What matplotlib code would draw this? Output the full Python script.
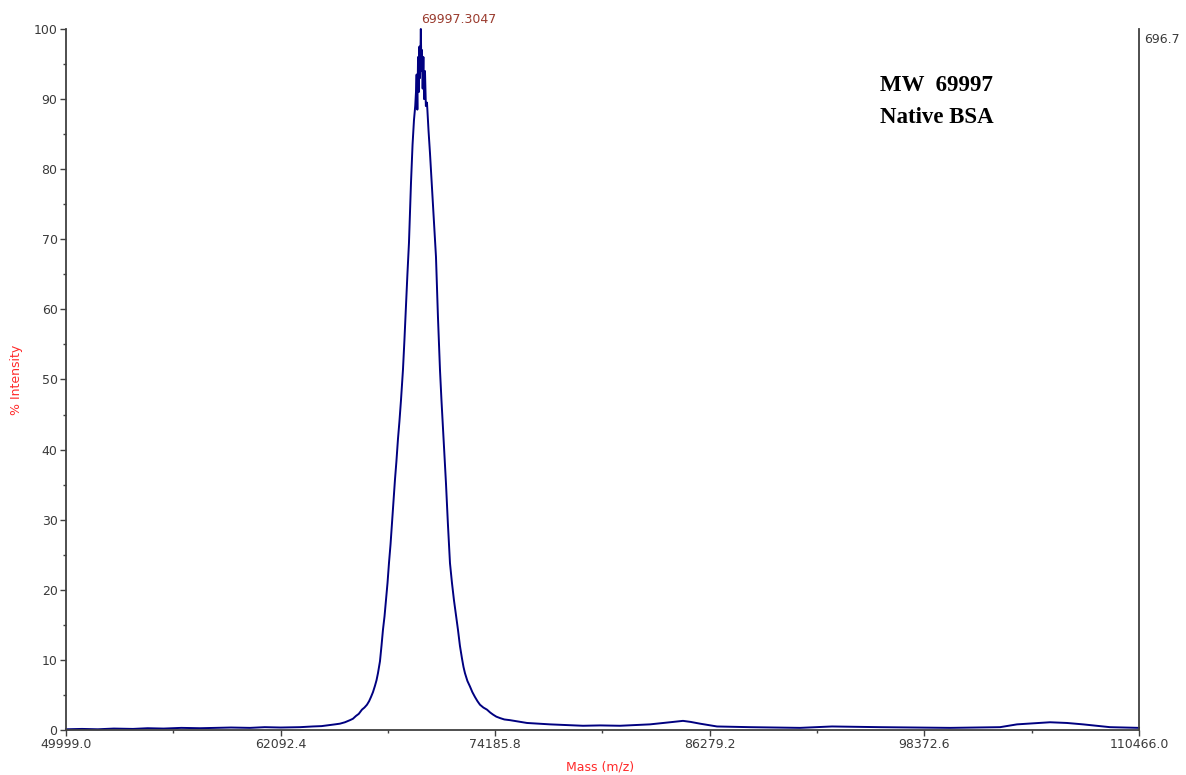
import numpy as np
import matplotlib.pyplot as plt

# deconvoluted spectrum (mass, % intensity)
mass = [49999, 50900, 51800, 52700, 53775, 54600, 55500, 56500, 57550, 58400,
        59300, 60368, 61200, 62100, 63186, 63900, 64400, 64876, 65160, 65440,
        65720, 66003, 66170, 66341, 66500, 66679, 66820, 66961, 67080, 67187,
        67300, 67412, 67500, 67581, 67694, 67780, 67863, 67950, 68032, 68120,
        68201, 68290, 68370, 68450, 68539, 68620, 68708, 68790, 68877, 68990,
        69070, 69159, 69240, 69328, 69441, 69530, 69610, 69680, 69723, 69760,
        69800, 69840, 69880, 69920, 69950, 69997, 70030, 70060, 70100, 70140,
        70180, 70230, 70280, 70343, 70430, 70512, 70600, 70681, 70770, 70850,
        70960, 71075, 71160, 71244, 71330, 71413, 71520, 71639, 71750, 71864,
        71980, 72089, 72200, 72315, 72400, 72484, 72620, 72766, 72900, 73048,
        73190, 73330, 73520, 73724, 73900, 74062, 74250, 74456, 74700, 75020,
        75500, 75978, 76600, 77274, 78200, 79133, 80100, 81218, 82100, 82909,
        83500, 84036, 84400, 84768, 85200, 85727, 86200, 86685, 87600, 88544,
        90000, 91362, 92300, 93165, 94500, 95870, 97800, 99815, 101200, 102633,
        103100, 103591, 104500, 105450, 106400, 107310, 108100, 108831, 109700, 110466]
intensity = [0.1, 0.15, 0.1, 0.2, 0.15, 0.25, 0.2, 0.3, 0.25, 0.3,
             0.35, 0.3, 0.4, 0.35, 0.4, 0.5, 0.55, 0.7, 0.8, 0.9,
             1.1, 1.4, 1.6, 2.0, 2.3, 2.9, 3.2, 3.6, 4.1, 4.7,
             5.4, 6.3, 7.1, 8.1, 9.8, 12.0, 14.3, 16.2, 18.5, 21.0,
             23.8, 26.5, 29.5, 32.6, 35.7, 38.3, 41.5, 44.0, 47.0, 51.4,
             55.5, 60.5, 65.0, 69.5, 78.0, 83.5, 87.0, 89.0, 91.0, 93.5,
             88.5, 96.0, 91.0, 97.5, 93.0, 100.0, 94.0, 97.0, 91.5, 96.0,
             90.0, 94.0, 89.0, 89.5, 85.5, 82.3, 78.5, 75.0, 71.0, 67.5,
             59.0, 51.4, 47.0, 43.0, 39.0, 35.2, 29.5, 23.8, 21.0, 18.5,
             16.3, 14.3, 12.0, 10.2, 9.0, 8.1, 7.0, 6.2, 5.4, 4.7,
             4.1, 3.6, 3.2, 2.9, 2.5, 2.2, 1.9, 1.7, 1.5, 1.4,
             1.2, 1.0, 0.9, 0.8, 0.7, 0.6, 0.65, 0.6, 0.7, 0.8,
             0.95, 1.1, 1.2, 1.3, 1.15, 0.9, 0.7, 0.5, 0.45, 0.4,
             0.35, 0.3, 0.4, 0.5, 0.45, 0.4, 0.35, 0.3, 0.35, 0.4,
             0.6, 0.8, 0.95, 1.1, 1.0, 0.8, 0.6, 0.4, 0.35, 0.3]

peak_label = "69997.3047"
peak_mass = 69997.3047
max_counts = "696.7"
x_ticks = [49999.0, 62092.4, 74185.8, 86279.2, 98372.6, 110466.0]
y_ticks = list(range(0, 101, 10))

tick_col = '#3a3a3a'
label_col = '#ff2a2a'

fig = plt.figure(figsize=(11.86, 7.75), dpi=100)
ax = fig.add_axes([0.0556, 0.0581, 0.9048, 0.9045])

ax.plot(mass, intensity, color='#000080', lw=1.4, clip_on=False)

ax.set_xlim(x_ticks[0], x_ticks[-1])
ax.set_ylim(0, 100)

ax.set_xticks(x_ticks)
ax.set_xticklabels(["{:.1f}".format(t) for t in x_ticks])
ax.set_xticks([(a + b) / 2 for a, b in zip(x_ticks, x_ticks[1:])], minor=True)
ax.set_yticks(y_ticks)
ax.set_yticks([v + 5 for v in y_ticks[:-1]], minor=True)

ax.tick_params(axis='both', which='major', direction='out', length=4, width=1,
               color='#404040', labelsize=9, labelcolor=tick_col, pad=2)
ax.tick_params(axis='both', which='minor', direction='out', length=2, width=1,
               color='#404040')

ax.spines['top'].set_visible(False)
for s in ['left', 'bottom', 'right']:
    ax.spines[s].set_color('#404040')
    ax.spines[s].set_linewidth(1.3)

ax.set_xlabel("Mass (m/z)", color=label_col, fontsize=9)
ax.set_ylabel("% Intensity", color=label_col, fontsize=9)
ax.xaxis.set_label_coords(0.498, -0.044)
ax.yaxis.set_label_coords(-0.04, 0.5)

ax.text(peak_mass, 100.4, peak_label, color='#9a3b2e', fontsize=9,
        ha='left', va='bottom')
ax.text(1.005, 0.985, max_counts, transform=ax.transAxes, color=tick_col,
        fontsize=9, ha='left', va='center')

ax.text(0.759, 0.9187, "MW  69997", transform=ax.transAxes, family='Liberation Serif',
        fontweight='bold', fontsize=16.5, va='center', ha='left')
ax.text(0.759, 0.8744, "Native BSA", transform=ax.transAxes, family='Liberation Serif',
        fontweight='bold', fontsize=16.5, va='center', ha='left')

fig.savefig('out.png', dpi=100)
